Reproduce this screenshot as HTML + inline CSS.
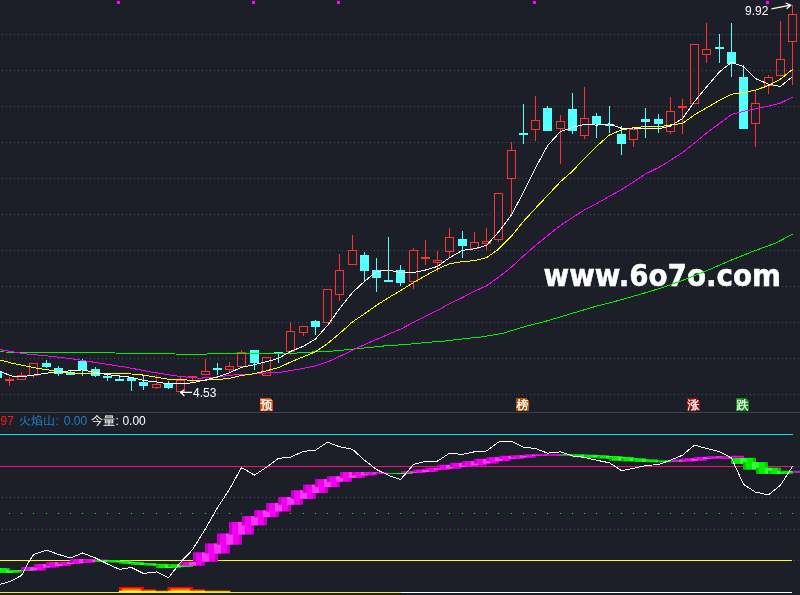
<!DOCTYPE html>
<html><head><meta charset="utf-8"><title>chart</title>
<style>
html,body{margin:0;padding:0;background:#1c1f28;}
body{width:800px;height:595px;overflow:hidden;position:relative;font-family:"Liberation Sans","Noto Sans CJK SC",sans-serif;}
svg{position:absolute;left:0;top:0;display:block}
.t{font-family:"Liberation Sans","Noto Sans CJK SC",sans-serif;font-size:12px}
.mk{font-family:"Liberation Sans","WenQuanYi Zen Hei","Noto Sans CJK SC",sans-serif;font-size:12px;fill:#fff;stroke:#fff;stroke-width:0.3px}
</style></head><body>
<svg width="800" height="595" viewBox="0 0 800 595">
<defs>
<linearGradient id="gm" x1="0" x2="1" y1="0" y2="0"><stop offset="0" stop-color="#c400c4"/><stop offset="0.12" stop-color="#c400c4"/><stop offset="0.12" stop-color="#f000f0"/><stop offset="0.36" stop-color="#f000f0"/><stop offset="0.36" stop-color="#ff34ff"/><stop offset="0.64" stop-color="#ff34ff"/><stop offset="0.64" stop-color="#f000f0"/><stop offset="0.88" stop-color="#f000f0"/><stop offset="0.88" stop-color="#c400c4"/><stop offset="1" stop-color="#c400c4"/></linearGradient>
<linearGradient id="gg" x1="0" x2="1" y1="0" y2="0"><stop offset="0" stop-color="#00c400"/><stop offset="0.12" stop-color="#00c400"/><stop offset="0.12" stop-color="#00f000"/><stop offset="0.36" stop-color="#00f000"/><stop offset="0.36" stop-color="#34ff34"/><stop offset="0.64" stop-color="#34ff34"/><stop offset="0.64" stop-color="#00f000"/><stop offset="0.88" stop-color="#00f000"/><stop offset="0.88" stop-color="#00c400"/><stop offset="1" stop-color="#00c400"/></linearGradient>
<linearGradient id="gf" gradientUnits="userSpaceOnUse" x1="0" x2="0" y1="587" y2="593"><stop offset="0" stop-color="#ff0000"/><stop offset="0.25" stop-color="#ff1000"/><stop offset="0.5" stop-color="#ff9000"/><stop offset="0.8" stop-color="#ffe800"/><stop offset="1" stop-color="#ffff00"/></linearGradient>
</defs>
<rect width="800" height="595" fill="#1c1f28"/>
<g stroke="#464e5e" stroke-width="1" stroke-dasharray="1 3" fill="none" shape-rendering="crispEdges"><line x1="2" x2="800" y1="34.5" y2="34.5"/><line x1="2" x2="800" y1="70.5" y2="70.5"/><line x1="2" x2="800" y1="106.5" y2="106.5"/><line x1="2" x2="800" y1="142.5" y2="142.5"/><line x1="2" x2="800" y1="178.5" y2="178.5"/><line x1="2" x2="800" y1="214.5" y2="214.5"/><line x1="2" x2="800" y1="250.5" y2="250.5"/><line x1="2" x2="800" y1="286.5" y2="286.5"/><line x1="2" x2="800" y1="322.5" y2="322.5"/><line x1="2" x2="800" y1="358.5" y2="358.5"/><line x1="2" x2="800" y1="394.5" y2="394.5"/><line x1="2" x2="800" y1="466.5" y2="466.5"/><line x1="2" x2="800" y1="497.5" y2="497.5"/><line x1="2" x2="800" y1="529.5" y2="529.5"/><line x1="2" x2="800" y1="560.5" y2="560.5"/></g>
<rect x="0" y="412" width="800" height="1" fill="#3d434e"/>
<g fill="#ff00ff"><rect x="117" y="1" width="3" height="3"/><rect x="252" y="1" width="3" height="3"/><rect x="337" y="1" width="3" height="3"/><rect x="533" y="1" width="3" height="3"/><rect x="766" y="1" width="3" height="3"/></g>
<text x="543.5" y="286" font-family="'DejaVu Sans','Liberation Sans',sans-serif" font-weight="bold" font-size="29.5" fill="#ffffff" stroke="#ffffff" stroke-width="0.5" textLength="237.5" lengthAdjust="spacingAndGlyphs">www.6o7o.com</text>
<g shape-rendering="crispEdges"><rect x="-7.0" y="372" width="9" height="6" fill="#54ffff"/><rect x="9.0" y="377" width="1" height="2" fill="#ff3232"/><rect x="9.0" y="381" width="1" height="5" fill="#ff3232"/><rect x="5.0" y="379" width="9" height="2" fill="#ff3232"/><rect x="21.0" y="372" width="1" height="3" fill="#ff3232"/><rect x="17.5" y="375.5" width="8" height="4" fill="none" stroke="#ff3232" stroke-width="1"/><rect x="33.0" y="376" width="1" height="2" fill="#ff3232"/><rect x="29.5" y="363.5" width="8" height="12" fill="none" stroke="#ff3232" stroke-width="1"/><rect x="46.0" y="360" width="1" height="8" fill="#54ffff"/><rect x="42.0" y="363" width="9" height="4" fill="#54ffff"/><rect x="58.0" y="366" width="1" height="10" fill="#54ffff"/><rect x="54.0" y="368" width="9" height="6" fill="#54ffff"/><rect x="70.0" y="370" width="1" height="5" fill="#54ffff"/><rect x="66.0" y="373" width="9" height="2" fill="#54ffff"/><rect x="82.0" y="359" width="1" height="17" fill="#54ffff"/><rect x="78.0" y="361" width="9" height="9" fill="#54ffff"/><rect x="95.0" y="367" width="1" height="10" fill="#54ffff"/><rect x="91.0" y="369" width="9" height="7" fill="#54ffff"/><rect x="107.0" y="374" width="1" height="7" fill="#54ffff"/><rect x="103.0" y="376" width="9" height="2" fill="#54ffff"/><rect x="119.0" y="375" width="1" height="6" fill="#54ffff"/><rect x="115.0" y="379" width="9" height="2" fill="#54ffff"/><rect x="131.0" y="378" width="1" height="13" fill="#54ffff"/><rect x="127.0" y="378" width="9" height="3" fill="#54ffff"/><rect x="143.0" y="376" width="1" height="14" fill="#54ffff"/><rect x="139.0" y="382" width="9" height="4" fill="#54ffff"/><rect x="156.0" y="375" width="1" height="9" fill="#ff3232"/><rect x="156.0" y="388" width="1" height="1" fill="#ff3232"/><rect x="152.5" y="384.5" width="8" height="3" fill="none" stroke="#ff3232" stroke-width="1"/><rect x="168.0" y="381" width="1" height="8" fill="#54ffff"/><rect x="164.0" y="384" width="9" height="4" fill="#54ffff"/><rect x="180.0" y="377" width="1" height="3" fill="#ff3232"/><rect x="176.5" y="380.5" width="8" height="11" fill="none" stroke="#ff3232" stroke-width="1"/><rect x="192.0" y="378" width="1" height="5" fill="#ff3232"/><rect x="188.0" y="376" width="9" height="2" fill="#ff3232"/><rect x="205.0" y="359" width="1" height="12" fill="#ff3232"/><rect x="201.5" y="371.5" width="8" height="3" fill="none" stroke="#ff3232" stroke-width="1"/><rect x="217.0" y="363" width="1" height="12" fill="#54ffff"/><rect x="213.0" y="368" width="9" height="2" fill="#54ffff"/><rect x="229.0" y="362" width="1" height="4" fill="#ff3232"/><rect x="229.0" y="370" width="1" height="2" fill="#ff3232"/><rect x="225.5" y="366.5" width="8" height="3" fill="none" stroke="#ff3232" stroke-width="1"/><rect x="241.0" y="350" width="1" height="2" fill="#ff3232"/><rect x="237.5" y="352.5" width="8" height="14" fill="none" stroke="#ff3232" stroke-width="1"/><rect x="254.0" y="350" width="1" height="20" fill="#54ffff"/><rect x="250.0" y="350" width="9" height="13" fill="#54ffff"/><rect x="262.5" y="357.5" width="8" height="18" fill="none" stroke="#ff3232" stroke-width="1"/><rect x="278.0" y="352" width="1" height="11" fill="#54ffff"/><rect x="274.0" y="352" width="9" height="2" fill="#54ffff"/><rect x="290.0" y="322" width="1" height="9" fill="#ff3232"/><rect x="290.0" y="352" width="1" height="3" fill="#ff3232"/><rect x="286.5" y="331.5" width="8" height="20" fill="none" stroke="#ff3232" stroke-width="1"/><rect x="303.0" y="333" width="1" height="3" fill="#ff3232"/><rect x="299.5" y="326.5" width="8" height="6" fill="none" stroke="#ff3232" stroke-width="1"/><rect x="315.0" y="320" width="1" height="15" fill="#54ffff"/><rect x="311.0" y="321" width="9" height="6" fill="#54ffff"/><rect x="323.5" y="289.5" width="8" height="33" fill="none" stroke="#ff3232" stroke-width="1"/><rect x="339.0" y="254" width="1" height="16" fill="#ff3232"/><rect x="339.0" y="295" width="1" height="6" fill="#ff3232"/><rect x="335.5" y="270.5" width="8" height="24" fill="none" stroke="#ff3232" stroke-width="1"/><rect x="352.0" y="235" width="1" height="15" fill="#ff3232"/><rect x="348.5" y="250.5" width="8" height="14" fill="none" stroke="#ff3232" stroke-width="1"/><rect x="364.0" y="252" width="1" height="30" fill="#54ffff"/><rect x="360.0" y="255" width="9" height="16" fill="#54ffff"/><rect x="376.0" y="258" width="1" height="34" fill="#54ffff"/><rect x="372.0" y="270" width="9" height="8" fill="#54ffff"/><rect x="388.0" y="237" width="1" height="45" fill="#54ffff"/><rect x="384.0" y="280" width="9" height="2" fill="#54ffff"/><rect x="400.0" y="265" width="1" height="21" fill="#54ffff"/><rect x="396.0" y="270" width="9" height="13" fill="#54ffff"/><rect x="413.0" y="248" width="1" height="2" fill="#ff3232"/><rect x="413.0" y="282" width="1" height="7" fill="#ff3232"/><rect x="409.5" y="250.5" width="8" height="31" fill="none" stroke="#ff3232" stroke-width="1"/><rect x="425.0" y="240" width="1" height="17" fill="#ff3232"/><rect x="425.0" y="259" width="1" height="6" fill="#ff3232"/><rect x="421.0" y="257" width="9" height="2" fill="#ff3232"/><rect x="437.0" y="251" width="1" height="9" fill="#ff3232"/><rect x="437.0" y="263" width="1" height="9" fill="#ff3232"/><rect x="433.5" y="260.5" width="8" height="2" fill="none" stroke="#ff3232" stroke-width="1"/><rect x="449.0" y="228" width="1" height="9" fill="#ff3232"/><rect x="449.0" y="252" width="1" height="5" fill="#ff3232"/><rect x="445.5" y="237.5" width="8" height="14" fill="none" stroke="#ff3232" stroke-width="1"/><rect x="462.0" y="231" width="1" height="27" fill="#54ffff"/><rect x="458.0" y="239" width="9" height="7" fill="#54ffff"/><rect x="474.0" y="232" width="1" height="10" fill="#ff3232"/><rect x="470.5" y="242.5" width="8" height="6" fill="none" stroke="#ff3232" stroke-width="1"/><rect x="486.0" y="228" width="1" height="13" fill="#ff3232"/><rect x="486.0" y="244" width="1" height="6" fill="#ff3232"/><rect x="482.5" y="241.5" width="8" height="2" fill="none" stroke="#ff3232" stroke-width="1"/><rect x="498.0" y="240" width="1" height="2" fill="#ff3232"/><rect x="494.5" y="193.5" width="8" height="46" fill="none" stroke="#ff3232" stroke-width="1"/><rect x="511.0" y="142" width="1" height="8" fill="#ff3232"/><rect x="511.0" y="179" width="1" height="35" fill="#ff3232"/><rect x="507.5" y="150.5" width="8" height="28" fill="none" stroke="#ff3232" stroke-width="1"/><rect x="523.0" y="104" width="1" height="40" fill="#54ffff"/><rect x="519.0" y="133" width="9" height="2" fill="#54ffff"/><rect x="535.0" y="96" width="1" height="24" fill="#ff3232"/><rect x="535.0" y="130" width="1" height="11" fill="#ff3232"/><rect x="531.5" y="120.5" width="8" height="9" fill="none" stroke="#ff3232" stroke-width="1"/><rect x="547.0" y="106" width="1" height="25" fill="#54ffff"/><rect x="543.0" y="108" width="9" height="23" fill="#54ffff"/><rect x="560.0" y="115" width="1" height="6" fill="#ff3232"/><rect x="560.0" y="129" width="1" height="35" fill="#ff3232"/><rect x="556.5" y="121.5" width="8" height="7" fill="none" stroke="#ff3232" stroke-width="1"/><rect x="572.0" y="93" width="1" height="41" fill="#54ffff"/><rect x="568.0" y="109" width="9" height="22" fill="#54ffff"/><rect x="584.0" y="87" width="1" height="31" fill="#ff3232"/><rect x="584.0" y="136" width="1" height="3" fill="#ff3232"/><rect x="580.5" y="118.5" width="8" height="17" fill="none" stroke="#ff3232" stroke-width="1"/><rect x="596.0" y="113" width="1" height="25" fill="#54ffff"/><rect x="592.0" y="116" width="9" height="8" fill="#54ffff"/><rect x="609.0" y="106" width="1" height="27" fill="#54ffff"/><rect x="605.0" y="124" width="9" height="2" fill="#54ffff"/><rect x="621.0" y="126" width="1" height="29" fill="#54ffff"/><rect x="617.0" y="134" width="9" height="10" fill="#54ffff"/><rect x="633.0" y="140" width="1" height="7" fill="#ff3232"/><rect x="629.5" y="129.5" width="8" height="10" fill="none" stroke="#ff3232" stroke-width="1"/><rect x="645.0" y="108" width="1" height="30" fill="#54ffff"/><rect x="641.0" y="119" width="9" height="3" fill="#54ffff"/><rect x="658.0" y="114" width="1" height="19" fill="#54ffff"/><rect x="654.0" y="119" width="9" height="5" fill="#54ffff"/><rect x="670.0" y="97" width="1" height="14" fill="#ff3232"/><rect x="670.0" y="132" width="1" height="2" fill="#ff3232"/><rect x="666.5" y="111.5" width="8" height="20" fill="none" stroke="#ff3232" stroke-width="1"/><rect x="682.0" y="99" width="1" height="7" fill="#ff3232"/><rect x="682.0" y="108" width="1" height="26" fill="#ff3232"/><rect x="678.0" y="106" width="9" height="2" fill="#ff3232"/><rect x="690.5" y="44.5" width="8" height="59" fill="none" stroke="#ff3232" stroke-width="1"/><rect x="706.0" y="23" width="1" height="26" fill="#ff3232"/><rect x="706.0" y="55" width="1" height="8" fill="#ff3232"/><rect x="702.5" y="49.5" width="8" height="5" fill="none" stroke="#ff3232" stroke-width="1"/><rect x="719.0" y="34" width="1" height="29" fill="#54ffff"/><rect x="715.0" y="47" width="9" height="2" fill="#54ffff"/><rect x="731.0" y="23" width="1" height="54" fill="#54ffff"/><rect x="727.0" y="52" width="9" height="12" fill="#54ffff"/><rect x="743.0" y="65" width="1" height="64" fill="#54ffff"/><rect x="739.0" y="77" width="9" height="52" fill="#54ffff"/><rect x="755.0" y="90" width="1" height="13" fill="#ff3232"/><rect x="755.0" y="124" width="1" height="23" fill="#ff3232"/><rect x="751.5" y="103.5" width="8" height="20" fill="none" stroke="#ff3232" stroke-width="1"/><rect x="768.0" y="75" width="1" height="2" fill="#ff3232"/><rect x="768.0" y="86" width="1" height="8" fill="#ff3232"/><rect x="764.5" y="77.5" width="8" height="8" fill="none" stroke="#ff3232" stroke-width="1"/><rect x="780.0" y="21" width="1" height="38" fill="#ff3232"/><rect x="776.5" y="59.5" width="8" height="16" fill="none" stroke="#ff3232" stroke-width="1"/><rect x="792.0" y="5" width="1" height="9" fill="#ff3232"/><rect x="792.0" y="42" width="1" height="43" fill="#ff3232"/><rect x="788.5" y="14.5" width="8" height="27" fill="none" stroke="#ff3232" stroke-width="1"/></g>
<polyline points="0.0,351.0 4.0,352.0 115.0,353.0 175.0,354.0 200.0,354.3 212.0,353.8 290.0,353.5 312.5,352.0 331.2,351.2 350.0,349.4 368.8,347.5 387.5,345.6 406.2,344.5 425.0,342.6 443.8,341.1 462.5,338.9 481.2,337.0 502.7,333.3 525.4,326.5 548.1,320.6 570.8,313.8 593.5,307.0 616.2,301.1 638.9,294.7 661.6,287.9 684.3,279.7 707.0,270.6 729.7,260.7 752.4,251.6 775.0,243.4 792.5,234.3" fill="none" stroke="#00f000" stroke-width="1" stroke-linejoin="round" shape-rendering="crispEdges"/>
<polyline points="0.0,349.5 5.0,350.5 25.0,353.8 50.0,356.2 75.0,359.2 100.0,363.2 125.0,367.0 150.0,371.8 175.0,375.8 190.0,377.5 200.0,378.2 218.8,376.8 237.5,374.5 241.5,374.7 254.5,373.9 266.5,373.0 278.5,372.5 290.5,370.7 303.5,368.3 315.5,365.9 327.5,361.9 339.5,356.5 352.5,350.2 364.5,344.6 376.5,339.5 388.5,334.2 400.5,329.2 413.5,322.3 425.5,316.2 437.5,310.4 449.5,303.7 462.5,297.5 474.5,291.3 486.5,285.7 498.5,277.3 511.5,267.0 523.5,256.0 535.5,245.4 547.5,235.7 560.5,225.4 572.5,217.5 584.5,209.9 596.5,203.6 609.5,196.3 621.5,189.6 633.5,182.0 645.5,173.9 658.5,167.6 670.5,160.3 682.5,152.6 694.5,143.0 706.5,133.1 719.5,123.4 731.5,114.5 743.5,111.3 755.5,108.9 768.5,106.1 780.5,103.0 792.5,97.2" fill="none" stroke="#ff00ff" stroke-width="1" stroke-linejoin="round" shape-rendering="crispEdges"/>
<polyline points="0.0,360.0 12.5,363.3 25.0,365.8 37.5,368.3 50.0,370.2 57.0,371.5 63.0,372.2 75.0,373.0 100.0,373.0 112.5,373.5 119.5,373.9 131.5,374.0 143.5,375.1 156.5,377.2 168.5,379.3 180.5,379.9 192.5,380.1 205.5,380.1 217.5,379.5 229.5,378.4 241.5,375.5 254.5,373.7 266.5,370.8 278.5,367.7 290.5,362.1 303.5,356.7 315.5,351.8 327.5,343.6 339.5,333.6 352.5,321.9 364.5,313.8 376.5,305.3 388.5,297.7 400.5,290.6 413.5,282.5 425.5,275.7 437.5,269.0 449.5,263.8 462.5,261.5 474.5,260.7 486.5,257.7 498.5,249.2 511.5,236.2 523.5,221.3 535.5,208.3 547.5,195.6 560.5,181.7 572.5,171.1 584.5,158.3 596.5,146.5 609.5,134.9 621.5,129.9 633.5,127.8 645.5,126.6 658.5,126.9 670.5,125.0 682.5,123.5 694.5,114.8 706.5,107.9 719.5,100.3 731.5,94.2 743.5,92.6 755.5,90.1 768.5,85.6 780.5,79.1 792.5,69.4" fill="none" stroke="#ffff00" stroke-width="1" stroke-linejoin="round" shape-rendering="crispEdges"/>
<polyline points="-2.5,370.5 0.0,371.2 6.0,373.8 12.5,376.2 21.0,377.0 33.8,375.0 46.0,373.2 58.5,371.8 70.5,370.8 82.5,369.9 95.5,372.4 107.5,374.6 119.5,376.1 131.5,377.3 143.5,380.4 156.5,382.0 168.5,384.0 180.5,383.7 192.5,382.8 205.5,379.8 217.5,377.0 229.5,372.7 241.5,367.3 254.5,364.6 266.5,361.7 278.5,358.4 290.5,351.4 303.5,346.2 315.5,339.0 327.5,325.5 339.5,308.7 352.5,292.5 364.5,281.4 376.5,271.6 388.5,269.9 400.5,272.6 413.5,272.6 425.5,270.0 437.5,266.4 449.5,257.7 462.5,250.3 474.5,248.8 486.5,245.4 498.5,232.1 511.5,214.7 523.5,192.3 535.5,167.9 547.5,145.8 560.5,131.4 572.5,127.5 584.5,124.4 596.5,125.1 609.5,123.9 621.5,128.4 633.5,128.0 645.5,128.8 658.5,128.8 670.5,126.0 682.5,118.6 694.5,101.6 706.5,87.0 719.5,71.8 731.5,62.3 743.5,66.7 755.5,78.6 768.5,84.2 780.5,86.4 792.5,76.6" fill="none" stroke="#ffffff" stroke-width="1" stroke-linejoin="round" shape-rendering="crispEdges"/>
<text class="t" x="745" y="15.2" fill="#ffffff">9.92</text>
<path d="M771.5 8.8 L790.5 5.2 M785.6 3 L790.8 5.2 L786.6 8.8" stroke="#fff" stroke-width="1.2" fill="none"/>
<text class="t" x="193" y="396.7" fill="#ffffff">4.53</text>
<path d="M192 392.3 L181 392.3 M184.2 389.8 L180.8 392.3 L184.4 396" stroke="#fff" stroke-width="1.25" fill="none"/><rect x="180.3" y="391.4" width="2" height="2" fill="#fff"/>
<g>
<rect x="260" y="398" width="13" height="13" fill="#cc4e0c"/><text class="mk" x="260.5" y="408.8">预</text>
<rect x="516" y="398" width="13" height="13" fill="#a85400"/><text class="mk" x="516.5" y="408.8">榜</text>
<rect x="687" y="398" width="13" height="13" fill="#8c0a0a"/><text class="mk" x="687.5" y="408.8">涨</text>
<rect x="736" y="398" width="13" height="13" fill="#0a860a"/><text class="mk" x="736.5" y="408.8">跌</text>
<path d="M270.5 398h2.5v2.5zM526.5 398h2.5v2.5zM697.5 398h2.5v2.5zM746.5 398h2.5v2.5z" fill="#0c0d12"/>
</g>
<text class="t" x="0.5" y="425" fill="#ff1818">97</text>
<text class="t" transform="translate(19,425.2) scale(1,0.9)" fill="#1e80c4">火焰山</text><text class="t" x="55.6" y="425" fill="#1e80c4">:</text><text class="t" x="63.8" y="425" fill="#1e80c4">0.00</text>
<text class="t" transform="translate(91,425.2) scale(1,0.9)" fill="#ffffff">今量</text><text class="t" x="115.4" y="425" fill="#ffffff">:</text><text class="t" x="122.4" y="425" fill="#ffffff">0.00</text>
<rect x="0" y="434" width="793" height="1" fill="#00e6f0"/>
<rect x="0" y="466" width="792" height="1" fill="#f0107c"/>
<rect x="0" y="560" width="792" height="1" fill="#ffff00"/>
<g fill="#00f400"><rect x="9.0" y="513" width="1" height="1"/><rect x="21.0" y="513" width="1" height="1"/><rect x="33.0" y="513" width="1" height="1"/><rect x="46.0" y="513" width="1" height="1"/><rect x="58.0" y="513" width="1" height="1"/><rect x="70.0" y="513" width="1" height="1"/><rect x="82.0" y="513" width="1" height="1"/><rect x="95.0" y="513" width="1" height="1"/><rect x="107.0" y="513" width="1" height="1"/><rect x="119.0" y="513" width="1" height="1"/><rect x="131.0" y="513" width="1" height="1"/><rect x="143.0" y="513" width="1" height="1"/><rect x="156.0" y="513" width="1" height="1"/><rect x="168.0" y="513" width="1" height="1"/><rect x="180.0" y="513" width="1" height="1"/><rect x="192.0" y="513" width="1" height="1"/><rect x="205.0" y="513" width="1" height="1"/><rect x="217.0" y="513" width="1" height="1"/><rect x="229.0" y="513" width="1" height="1"/><rect x="241.0" y="513" width="1" height="1"/><rect x="254.0" y="513" width="1" height="1"/><rect x="266.0" y="513" width="1" height="1"/><rect x="278.0" y="513" width="1" height="1"/><rect x="290.0" y="513" width="1" height="1"/><rect x="303.0" y="513" width="1" height="1"/><rect x="315.0" y="513" width="1" height="1"/><rect x="327.0" y="513" width="1" height="1"/><rect x="339.0" y="513" width="1" height="1"/><rect x="352.0" y="513" width="1" height="1"/><rect x="364.0" y="513" width="1" height="1"/><rect x="376.0" y="513" width="1" height="1"/><rect x="388.0" y="513" width="1" height="1"/><rect x="400.0" y="513" width="1" height="1"/><rect x="413.0" y="513" width="1" height="1"/><rect x="425.0" y="513" width="1" height="1"/><rect x="437.0" y="513" width="1" height="1"/><rect x="449.0" y="513" width="1" height="1"/><rect x="462.0" y="513" width="1" height="1"/><rect x="474.0" y="513" width="1" height="1"/><rect x="486.0" y="513" width="1" height="1"/><rect x="498.0" y="513" width="1" height="1"/><rect x="511.0" y="513" width="1" height="1"/><rect x="523.0" y="513" width="1" height="1"/><rect x="535.0" y="513" width="1" height="1"/><rect x="547.0" y="513" width="1" height="1"/><rect x="560.0" y="513" width="1" height="1"/><rect x="572.0" y="513" width="1" height="1"/><rect x="584.0" y="513" width="1" height="1"/><rect x="596.0" y="513" width="1" height="1"/><rect x="609.0" y="513" width="1" height="1"/><rect x="621.0" y="513" width="1" height="1"/><rect x="633.0" y="513" width="1" height="1"/><rect x="645.0" y="513" width="1" height="1"/><rect x="658.0" y="513" width="1" height="1"/><rect x="670.0" y="513" width="1" height="1"/><rect x="682.0" y="513" width="1" height="1"/><rect x="694.0" y="513" width="1" height="1"/><rect x="706.0" y="513" width="1" height="1"/><rect x="719.0" y="513" width="1" height="1"/><rect x="731.0" y="513" width="1" height="1"/><rect x="743.0" y="513" width="1" height="1"/><rect x="755.0" y="513" width="1" height="1"/><rect x="768.0" y="513" width="1" height="1"/><rect x="780.0" y="513" width="1" height="1"/><rect x="792.0" y="513" width="1" height="1"/></g>
<g><rect x="-15.0" y="568.0" width="25" height="4.8" fill="url(#gg)"/><rect x="-3.0" y="570.0" width="25" height="2.8" fill="url(#gg)"/><rect x="9.0" y="570.0" width="25" height="1.0" fill="url(#gg)"/><rect x="21.0" y="567.0" width="25" height="3.5" fill="url(#gm)"/><rect x="34.0" y="564.0" width="25" height="3.6" fill="url(#gm)"/><rect x="46.0" y="562.0" width="25" height="4.0" fill="url(#gm)"/><rect x="58.0" y="561.8" width="25" height="2.2" fill="url(#gm)"/><rect x="70.0" y="559.0" width="25" height="3.8" fill="url(#gm)"/><rect x="83.0" y="559.5" width="25" height="2.5" fill="url(#gm)"/><rect x="95.0" y="560.0" width="25" height="2.0" fill="url(#gg)"/><rect x="107.0" y="560.6" width="25" height="1.9" fill="url(#gg)"/><rect x="119.0" y="561.9" width="25" height="1.9" fill="url(#gg)"/><rect x="131.0" y="563.1" width="25" height="1.9" fill="url(#gg)"/><rect x="144.0" y="563.8" width="25" height="1.9" fill="url(#gg)"/><rect x="156.0" y="564.4" width="25" height="3.7" fill="url(#gg)"/><rect x="168.0" y="564.4" width="25" height="2.6" fill="url(#gg)"/><rect x="180.0" y="561.8" width="25" height="3.9" fill="url(#gm)"/><rect x="193.0" y="552.3" width="25" height="9.5" fill="url(#gm)"/><rect x="205.0" y="543.4" width="25" height="10.2" fill="url(#gm)"/><rect x="217.0" y="533.4" width="25" height="11.3" fill="url(#gm)"/><rect x="229.0" y="522.0" width="25" height="12.6" fill="url(#gm)"/><rect x="242.0" y="516.1" width="25" height="9.3" fill="url(#gm)"/><rect x="254.0" y="510.2" width="25" height="7.0" fill="url(#gm)"/><rect x="266.0" y="503.0" width="25" height="8.5" fill="url(#gm)"/><rect x="278.0" y="497.0" width="25" height="7.8" fill="url(#gm)"/><rect x="291.0" y="490.2" width="25" height="8.7" fill="url(#gm)"/><rect x="303.0" y="484.6" width="25" height="8.4" fill="url(#gm)"/><rect x="315.0" y="479.1" width="25" height="8.0" fill="url(#gm)"/><rect x="327.0" y="476.2" width="25" height="5.6" fill="url(#gm)"/><rect x="340.0" y="472.0" width="25" height="5.9" fill="url(#gm)"/><rect x="352.0" y="472.0" width="25" height="3.4" fill="url(#gm)"/><rect x="364.0" y="472.4" width="25" height="1.6" fill="url(#gm)"/><rect x="376.0" y="473.0" width="25" height="1.0" fill="url(#gm)"/><rect x="388.0" y="473.0" width="25" height="1.0" fill="url(#gg)"/><rect x="401.0" y="471.2" width="25" height="1.8" fill="url(#gm)"/><rect x="413.0" y="469.5" width="25" height="2.5" fill="url(#gm)"/><rect x="425.0" y="467.8" width="25" height="2.0" fill="url(#gm)"/><rect x="437.0" y="464.8" width="25" height="3.9" fill="url(#gm)"/><rect x="450.0" y="462.8" width="25" height="4.2" fill="url(#gm)"/><rect x="462.0" y="461.1" width="25" height="4.5" fill="url(#gm)"/><rect x="474.0" y="458.9" width="25" height="4.7" fill="url(#gm)"/><rect x="486.0" y="457.2" width="25" height="4.0" fill="url(#gm)"/><rect x="499.0" y="455.8" width="25" height="3.1" fill="url(#gm)"/><rect x="511.0" y="455.2" width="25" height="2.5" fill="url(#gm)"/><rect x="523.0" y="454.4" width="25" height="1.6" fill="url(#gm)"/><rect x="535.0" y="454.4" width="25" height="1.1" fill="url(#gm)"/><rect x="548.0" y="454.4" width="25" height="1.1" fill="url(#gm)"/><rect x="560.0" y="454.4" width="25" height="1.1" fill="url(#gg)"/><rect x="572.0" y="454.7" width="25" height="2.5" fill="url(#gg)"/><rect x="584.0" y="455.2" width="25" height="2.5" fill="url(#gg)"/><rect x="597.0" y="456.0" width="25" height="2.6" fill="url(#gg)"/><rect x="609.0" y="456.9" width="25" height="3.9" fill="url(#gg)"/><rect x="621.0" y="458.2" width="25" height="3.2" fill="url(#gg)"/><rect x="633.0" y="459.4" width="25" height="2.5" fill="url(#gg)"/><rect x="646.0" y="460.6" width="25" height="1.7" fill="url(#gg)"/><rect x="658.0" y="460.6" width="25" height="1.3" fill="url(#gg)"/><rect x="670.0" y="459.4" width="25" height="2.2" fill="url(#gm)"/><rect x="682.0" y="458.2" width="25" height="2.6" fill="url(#gm)"/><rect x="694.0" y="456.9" width="25" height="2.1" fill="url(#gm)"/><rect x="707.0" y="456.2" width="25" height="1.6" fill="url(#gm)"/><rect x="719.0" y="457.9" width="25" height="1.0" fill="url(#gm)"/><rect x="731.0" y="457.9" width="25" height="6.0" fill="url(#gg)"/><rect x="743.0" y="462.1" width="25" height="7.6" fill="url(#gg)"/><rect x="756.0" y="467.7" width="25" height="6.2" fill="url(#gg)"/><rect x="768.0" y="470.9" width="25" height="3.0" fill="url(#gg)"/><rect x="780.0" y="470.9" width="25" height="1.6" fill="url(#gg)"/><rect x="731.5" y="455.8" width="12.5" height="1.8" fill="#f000f0"/><rect x="792.5" y="470.9" width="25" height="1.6" fill="url(#gm)"/></g>
<polyline points="-2.5,585.0 9.5,581.7 21.5,575.5 23.0,573.0 27.0,565.0 30.0,560.0 33.5,554.7 38.8,552.8 46.5,550.2 58.5,554.4 70.5,558.0 82.5,553.0 95.5,558.0 107.5,564.0 119.5,569.4 131.5,567.5 143.5,573.5 156.5,571.9 168.5,577.8 180.5,562.3 192.5,549.7 205.5,528.7 217.5,507.7 229.5,489.2 241.5,467.5 254.5,475.1 266.5,467.2 278.5,458.4 290.5,457.2 303.5,451.3 315.5,450.2 327.5,442.1 339.5,446.8 352.5,449.3 364.5,460.2 376.5,469.5 388.5,475.4 400.5,479.6 413.5,464.5 425.5,461.4 437.5,461.1 449.5,453.2 462.5,454.4 474.5,451.8 486.5,451.0 498.5,442.1 506.0,441.3 511.5,441.3 523.5,447.1 535.5,448.5 547.5,453.2 560.5,451.8 572.5,456.0 584.5,457.4 596.5,460.2 609.5,462.8 621.5,470.7 633.5,468.3 645.5,465.6 658.5,464.5 670.5,460.2 682.5,455.2 694.5,445.1 706.5,448.5 719.5,451.6 731.5,458.0 743.5,484.4 755.5,492.1 768.5,494.9 780.5,485.1 792.5,466.5" fill="none" stroke="#ffffff" stroke-width="1" stroke-linejoin="round" shape-rendering="crispEdges"/>
<rect x="118.9" y="587" width="25.0" height="4" fill="#ff0000"/><rect x="121.9" y="588.4" width="19.0" height="1.2" fill="#ff6410"/><rect x="121.9" y="589.5" width="19.0" height="1.3" fill="#ffa418"/><rect x="118.9" y="590.7" width="25.0" height="2.3" fill="#ffff28"/><rect x="143.9" y="589.1" width="12.0" height="2" fill="#ff0800"/><rect x="143.9" y="590.7" width="12.0" height="2.3" fill="#ffff28"/><rect x="155.9" y="590.6" width="11.6" height="1" fill="#ff5a00"/><rect x="155.9" y="591.3" width="11.6" height="1.7" fill="#ffff28"/><rect x="167.5" y="587" width="25.5" height="4" fill="#ff0000"/><rect x="170.5" y="588.4" width="19.5" height="1.2" fill="#ff6410"/><rect x="170.5" y="589.5" width="19.5" height="1.3" fill="#ffa418"/><rect x="167.5" y="590.7" width="25.5" height="2.3" fill="#ffff28"/><rect x="193" y="589.1" width="12.0" height="2" fill="#ff0800"/><rect x="193" y="590.7" width="12.0" height="2.3" fill="#ffff28"/><rect x="205" y="590.6" width="25.3" height="1" fill="#ff5a00"/><rect x="205" y="591.3" width="25.3" height="1.7" fill="#ffff28"/>
<rect x="0" y="592" width="401" height="1" fill="#f0f000"/>
<rect x="401" y="592" width="391" height="1" fill="#ffffff"/>
</svg>
</body></html>
